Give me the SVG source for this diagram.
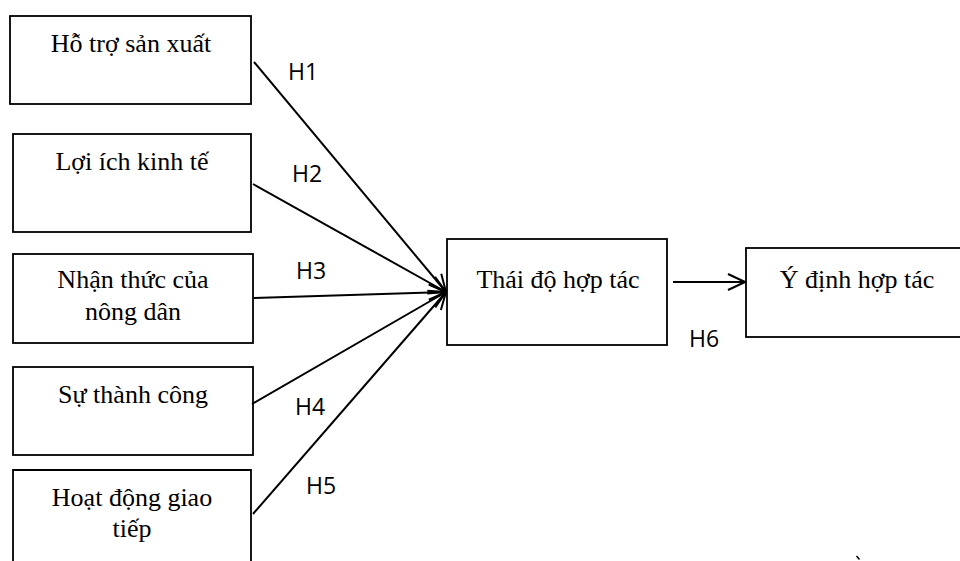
<svg xmlns="http://www.w3.org/2000/svg" width="960" height="561" viewBox="0 0 960 561">
<style>
.box{fill:#fff;stroke:#000;stroke-width:1.8}
.t{font-family:"Liberation Serif","Times New Roman",serif;font-size:26px;fill:#000;text-anchor:middle}
.h{font-family:"Open Sans","Liberation Sans",sans-serif;font-size:23px;fill:#000}
.c{stroke:#000;stroke-width:2;fill:none}
</style>
<defs>
<marker id="arr" viewBox="0 0 20 20" refX="19" refY="10" markerWidth="20" markerHeight="20" markerUnits="userSpaceOnUse" orient="auto">
<path d="M2,2 L19,10 L2,18" fill="none" stroke="#000" stroke-width="2"/>
</marker>
</defs>
<rect width="960" height="561" fill="#fff"/>
<g id="n1"><rect class="box" x="10" y="16" width="241" height="88"/><text class="t" x="131" y="52">Hỗ trợ sản xuất</text></g>
<g id="n2"><rect class="box" x="13" y="134" width="238" height="98"/><text class="t" x="132" y="170">Lợi ích kinh tế</text></g>
<g id="n3"><rect class="box" x="13" y="254" width="240" height="89"/><text class="t" x="133" y="288">Nhận thức của</text><text class="t" x="133" y="320">nông dân</text></g>
<g id="n4"><rect class="box" x="13" y="367" width="240" height="88"/><text class="t" x="133" y="403">Sự thành công</text></g>
<g id="n5"><path class="box" d="M13,565 L13,470 L251,470 L251,565"/><text class="t" x="132" y="506">Hoạt động giao</text><text class="t" x="132" y="537">tiếp</text></g>
<g id="n6"><rect class="box" x="447" y="239" width="220" height="106"/><text class="t" x="558" y="288">Thái độ hợp tác</text></g>
<g id="n7"><rect class="box" x="746" y="248" width="220" height="89"/><text class="t" x="857" y="288">Ý định hợp tác</text></g>
<g id="connectors">
<line class="c" x1="254" y1="62" x2="446" y2="292" marker-end="url(#arr)"/>
<line class="c" x1="253" y1="184" x2="446" y2="292" marker-end="url(#arr)"/>
<line class="c" x1="254" y1="298" x2="446" y2="292" marker-end="url(#arr)"/>
<line class="c" x1="252" y1="404" x2="446" y2="292" marker-end="url(#arr)"/>
<line class="c" x1="253" y1="514" x2="446" y2="292" marker-end="url(#arr)"/>
<line class="c" x1="673" y1="282" x2="745" y2="282" marker-end="url(#arr)"/>
</g>
<g id="labels">
<text class="h" x="288" y="80">H1</text>
<text class="h" x="292" y="182">H2</text>
<text class="h" x="296" y="279">H3</text>
<text class="h" x="295" y="415">H4</text>
<text class="h" x="306" y="494">H5</text>
<text class="h" x="689" y="347">H6</text>
</g>
<line x1="856.5" y1="556" x2="859.5" y2="559.5" stroke="#000" stroke-width="1.5"/>
</svg>
